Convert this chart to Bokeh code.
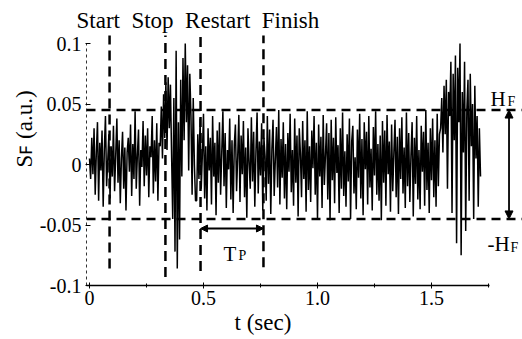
import numpy as np
from bokeh.plotting import figure
from bokeh.models import (Label, Arrow, NormalHead, FixedTicker, Range1d, Span, Title,
                          CustomJSTickFormatter)
from bokeh.embed import file_html
from bokeh.resources import INLINE

# ---------------- data ----------------
DT = 0.005  # sample interval (sec)
# S_F signal, in units of 1e-3 a.u.
seg_before_stop = [5, -12, 22, -8, 30, -25, 10, 35, -30, 18,
                   -5, 28, -35, 12, 40, -18, 3, 25, -28, 15,
                   -10, 32, -22, 8, 38, -15, 20, -32, 5, 27,
                   -20, 14, -38, 10, 22, -6, 33, -26, 17, -12,
                   44, -20, 8, 29, -34, 12, -2, 36, -18, 24,
                   -9, 30, -27, 15, 6, 40, -24, 20, -14, 34,
                   -30, 18]
seg_burst1 = [15, 48, 5, 58, 22,
              68, 12, 72, 30, 66, 8,
              -45, 55, -72, 94, -86, 35, -62,
              70, -10, 88, 20, 100, 35, 82, -5, 75,
              40, -25, 55, 0, -30]
seg_steady = [-30, 25, -12, 38, -20, 8, 42, -28, 15, -38, 30, -5, 22, -33, 40, -10, 18, -42, 28, -15,
              35, -25, 10, 44, -18, 26, -36, 12, -4, 38, -29, 20, -40, 16, 33, -22, 6, 41, -31, 24,
              -8, 36, -27, 14, -44, 30, 2, -20, 39, -14, 27, -35, 11, 43, -24, 19, -9, 34, -38, 22,
              7, -30, 40, -16, 29, -41, 13, 37, -26, 4, 31, -19, 45, -33, 21, -11, 35, -28, 17, -37,
              26, -6, 42, -23, 12, -34, 38, -15, 24, -43, 30, 9, -27, 36, -12, 20, -39, 44, -21, 15,
              -31, 28, -3, 40, -25, 18, -45, 33, -10, 23, -36, 41, -17, 8, 34, -29, 26, -46, 37, -13,
              22, -32, 39, -7, 16, -40, 30, -20, 43, -26, 11, -35, 25, -14, 38, -45, 19, 32, -24, 6,
              -37, 29, -11, 42, -28, 21, -42, 35, -4, 27, -33, 40, -19, 13, -38, 31, -9, 44, -25, 17,
              -30, 24, -46, 36, -15, 28, -34, 41, -8, 19, -39, 33, -22, 10, 37, -27, 23, -41, 30, -12,
              39, -24, 14, -36, 43, -18, 26, -31, 8, 35, -43, 22, -16, 40, -29, 12, -37, 32, -6, 27,
              -34, 45, -21, 18, -40, 30, -13, 38, -27, 20, -35, 42, -18, 25]
seg_burst2 = [30, 55, 10, 65, 25, 70, -20, 60, 40, 85,
              -40, 75, 20, 90, -65, 80, 35, 100, -75, 60,
              10, 85, -55, 45, 70, -30, 75, 15, 50, -45,
              65, 5, 40, -35, 30, -10]

event_names = ["Start", "Stop", "Restart", "Finish"]
event_times = [0.088, 0.333, 0.487, 0.763]
H_F = 0.045

x_ticks = [0, 0.5, 1.0, 1.5]
x_tick_labels = ["0", "0.5", "1.0", "1.5"]
x_minor = [0.25, 0.75, 1.25, 1.75]
y_ticks = [0.1, 0.05, 0, -0.05, -0.1]
y_tick_labels = ["0.1", "0.05", "0", "-0.05", "-0.1"]

sf = np.array(seg_before_stop + seg_burst1 + seg_steady + seg_burst2) * 1e-3
t = np.arange(len(sf)) * DT

# ---------------- figure ----------------
FONT = "Liberation Serif"
x0 = -3 / 228
p = figure(frame_width=436, frame_height=251, output_backend="svg", toolbar_location=None,
           x_range=Range1d(x0, x0 + 436 / 228), y_range=Range1d(-0.1, -0.1 + 251 / 1210),
           min_border_left=86, min_border_right=0, min_border_top=34, min_border_bottom=50)
p.outline_line_color = None
p.xgrid.visible = False
p.ygrid.visible = False
p.background_fill_color = "white"
p.border_fill_color = "white"

LABEL_JS = """
const i = tick_vals.findIndex(v => Math.abs(v - tick) < 1e-9);
return i >= 0 ? tick_text[i] : "";
"""

# axes
xa = p.xaxis[0]
xa.ticker = FixedTicker(ticks=x_ticks, minor_ticks=x_minor)
xa.formatter = CustomJSTickFormatter(args=dict(tick_vals=x_ticks, tick_text=x_tick_labels),
                                     code=LABEL_JS)
xa.bounds = (x0, 1.755)
xa.axis_line_width = 1.5
xa.axis_line_color = "black"
xa.major_tick_in = 3
xa.major_tick_out = 3
xa.minor_tick_in = 2
xa.minor_tick_out = 2
xa.major_label_standoff = 2
xa.major_label_text_font = FONT
xa.major_label_text_font_size = "20px"
xa.major_label_text_color = "black"

ya = p.yaxis[0]
ya.ticker = FixedTicker(ticks=y_ticks, minor_ticks=[])
ya.formatter = CustomJSTickFormatter(args=dict(tick_vals=y_ticks, tick_text=y_tick_labels),
                                     code=LABEL_JS)
ya.bounds = (-0.1, 0.1)
ya.axis_line_width = 1
ya.axis_line_color = "#333333"
ya.axis_line_dash = "3 3"
ya.major_tick_in = 4
ya.major_tick_out = 1
ya.major_label_standoff = 4
ya.major_label_text_font = FONT
ya.major_label_text_font_size = "20px"
ya.major_label_text_color = "black"

# signal
p.line(t, sf, line_color="black", line_width=1.5)

# threshold lines
for lev in (H_F, -H_F):
    p.add_layout(Span(location=lev, dimension="width", line_color="black",
                      line_width=2.5, line_dash="9 6"))

# event lines
line_bottoms = [-0.086, -0.093, -0.088, -0.085]
p.segment(x0=event_times, y0=line_bottoms, x1=event_times, y1=[0.1066] * 4,
          line_color="black", line_width=2.5, line_dash="10 6")


def lab(text, x, y, size, align="left", angle=0.0):
    p.add_layout(Label(x=x, y=y, text=text, text_font=FONT, text_font_size=f"{size}px",
                       text_align=align, text_baseline="alphabetic", angle=angle,
                       text_color="black"))


def side_title(text, side, size, offset, valign="bottom", line_height=1.0):
    ttl = Title(text=text, align="left", offset=offset, standoff=0,
                vertical_align=valign, text_font=FONT, text_font_size=f"{size}px",
                text_font_style="normal", text_color="black", text_line_height=line_height)
    p.add_layout(ttl, side)


NB = "\u00a0"
side_title(NB.join(["Start", "", "Stop", "", "Restart", "", "Finish"]), "above", 23, -10, valign="top")
side_title("t (sec)", "below", 23, 148, line_height=0.9)
side_title("S\ua730 (a.u.)", "left", 23, 118)

# H_F double arrow
p.add_layout(Arrow(start=NormalHead(size=8, fill_color="black", line_color="black"),
                   end=NormalHead(size=8, fill_color="black", line_color="black"),
                   x_start=1.84, y_start=-H_F, x_end=1.84, y_end=H_F,
                   line_color="black", line_width=1.8))
lab("H", 1.7588, 0.0545, 21)
lab("F", 1.8333, 0.0521, 14)
lab("-H", 1.7456, -0.0661, 21)
lab("F", 1.8465, -0.0686, 14)

# T_P double arrow
p.add_layout(Arrow(start=NormalHead(size=7, fill_color="black", line_color="black"),
                   end=NormalHead(size=7, fill_color="black", line_color="black"),
                   x_start=event_times[2], y_start=-0.0529, x_end=event_times[3], y_end=-0.0529,
                   line_color="black", line_width=1.8))
lab("T", 0.5877, -0.0736, 21)
lab("P", 0.6535, -0.0752, 14)

open("out.html", "w").write(file_html(p, INLINE))
